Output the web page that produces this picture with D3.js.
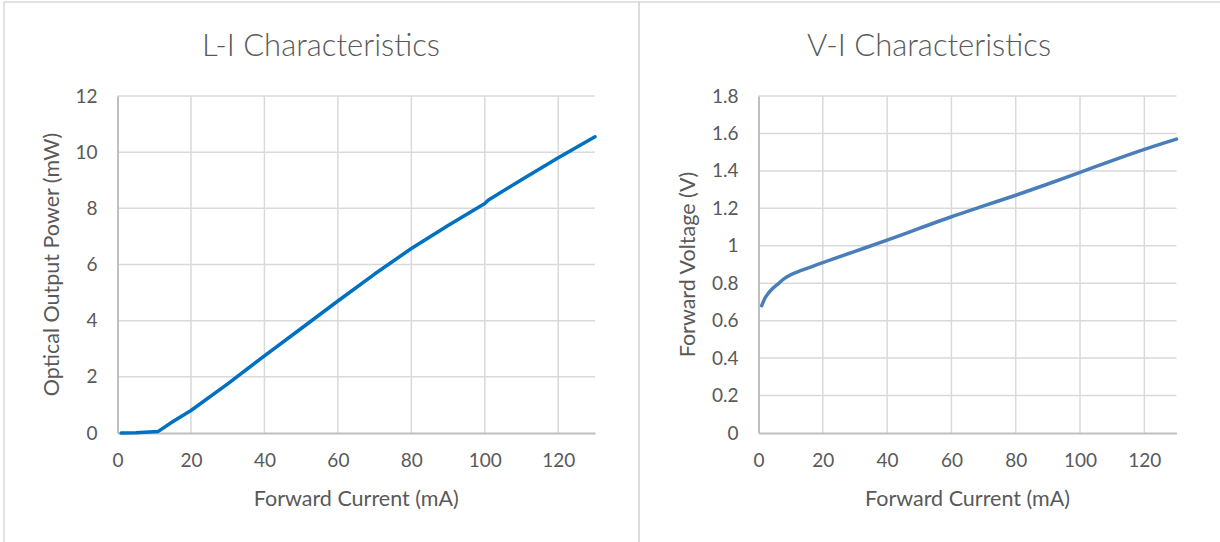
<!doctype html>
<html lang="en">
<head>
<meta charset="utf-8">
<title>L-I / V-I Characteristics</title>
<script src="https://cdn.jsdelivr.net/npm/d3@7"></script>
<style>
	body { margin: 0; background: #fff; }
	svg text { font-family: Lato, 'Open Sans', sans-serif; fill: #595959; }
</style>
</head>
<body>
<div id="view"></div>
<script>
/* data */
var liCurrent = [1, 5, 11, 15, 20, 30, 40, 50, 60, 70, 80, 90, 100, 101, 110, 120, 130];
var liPower   = [0, 0.01, 0.05, 0.4, 0.8, 1.75, 2.75, 3.72, 4.7, 5.66, 6.57, 7.39, 8.17, 8.3, 9.02, 9.8, 10.55];

var viCurrent = [1, 2, 3, 4, 6, 8, 10, 13, 16, 20, 30, 40, 50, 60, 70, 80, 90, 100, 110, 120, 130];
var viVoltage = [0.68, 0.72, 0.745, 0.765, 0.795, 0.825, 0.845, 0.867, 0.885, 0.91, 0.97, 1.03, 1.093, 1.155, 1.213, 1.27, 1.33, 1.392, 1.455, 1.515, 1.57];

var xTicks = [0, 20, 40, 60, 80, 100, 120];
var liTicks = [0, 2, 4, 6, 8, 10, 12];
var viTicks = [0, 0.2, 0.4, 0.6, 0.8, 1, 1.2, 1.4, 1.6, 1.8];

var size = { width: 1220, height: 542 };
var svg = d3.select('#view').append('svg')
	.attr('width', size.width)
	.attr('height', size.height);

/* frames */
svg.append('rect')
	.attr('x', 4).attr('y', 2)
	.attr('width', 635).attr('height', 560)
	.style('fill', 'none').style('stroke', '#d9d9d9').style('stroke-width', 1.5);
svg.append('rect')
	.attr('x', 639).attr('y', 2)
	.attr('width', 600).attr('height', 560)
	.style('fill', 'none').style('stroke', '#d9d9d9').style('stroke-width', 1.5);

function drawChart(opt){
	var g = svg.append('g');
	var x = d3.scaleLinear().domain([0, 130]).range([opt.left, opt.right]);
	var y = d3.scaleLinear().domain([0, opt.yMax]).range([433, 96]);

	// vertical grid
	g.selectAll('line.vgrid').data(xTicks.slice(1)).enter()
		.append('line').attr('class', 'vgrid')
		.attr('x1', function(d){ return x(d); }).attr('x2', function(d){ return x(d); })
		.attr('y1', y(0)).attr('y2', y(opt.yMax))
		.style('stroke', '#d9d9d9').style('stroke-width', 1.5);
	// horizontal grid
	g.selectAll('line.hgrid').data(opt.yTicks.slice(1)).enter()
		.append('line').attr('class', 'hgrid')
		.attr('x1', x(0)).attr('x2', x(130))
		.attr('y1', function(d){ return y(d); }).attr('y2', function(d){ return y(d); })
		.style('stroke', '#d9d9d9').style('stroke-width', 1.5);

	// axes
	var xAxis = g.append('g')
		.attr('transform', 'translate(0,' + y(0) + ')')
		.call(d3.axisBottom(x).tickValues(xTicks).tickSize(0).tickPadding(21));
	xAxis.select('.domain').style('stroke', '#bfbfbf').style('stroke-width', 2);
	var yAxis = g.append('g')
		.attr('transform', 'translate(' + x(0) + ',0)')
		.call(d3.axisLeft(y).tickValues(opt.yTicks).tickSize(0).tickPadding(20).tickFormat(d3.format('~g')));
	yAxis.select('.domain').style('stroke', '#bfbfbf').style('stroke-width', 2);
	g.selectAll('.tick text').style('font-size', '19px').style('fill', '#595959');

	// series
	var pts = opt.xs.map(function(d, i){ return [d, opt.ys[i]]; });
	g.append('path')
		.datum(pts)
		.attr('d', d3.line().curve(opt.curve)
			.x(function(d){ return x(d[0]); })
			.y(function(d){ return y(d[1]); }))
		.style('fill', 'none')
		.style('stroke', opt.color)
		.style('stroke-width', 3.5)
		.style('stroke-linecap', 'round')
		.style('stroke-linejoin', 'round');

	// titles
	g.append('text')
		.attr('x', opt.titleX).attr('y', 56)
		.attr('text-anchor', 'middle')
		.style('font-size', '31px').style('font-weight', 300)
		.text(opt.title);
	g.append('text')
		.attr('x', (x(0) + x(130)) / 2).attr('y', 506)
		.attr('text-anchor', 'middle')
		.style('font-size', '21.5px')
		.text('Forward Current (mA)');
	g.append('text')
		.attr('transform', 'translate(' + opt.yTitleX + ',' + ((y(0) + y(opt.yMax)) / 2) + ') rotate(-90)')
		.attr('text-anchor', 'middle')
		.style('font-size', '21.5px')
		.text(opt.yTitle);
}

drawChart({
	left: 117.5, right: 595, yMax: 12, yTicks: liTicks,
	xs: liCurrent, ys: liPower, color: '#0070c0', curve: d3.curveLinear,
	title: 'L-I Characteristics', titleX: 321,
	yTitle: 'Optical Output Power (mW)', yTitleX: 59
});
drawChart({
	left: 758.5, right: 1176.5, yMax: 1.8, yTicks: viTicks,
	xs: viCurrent, ys: viVoltage, color: '#4a7ebb', curve: d3.curveMonotoneX,
	title: 'V-I Characteristics', titleX: 929,
	yTitle: 'Forward Voltage (V)', yTitleX: 695
});
</script>
</body>
</html>
